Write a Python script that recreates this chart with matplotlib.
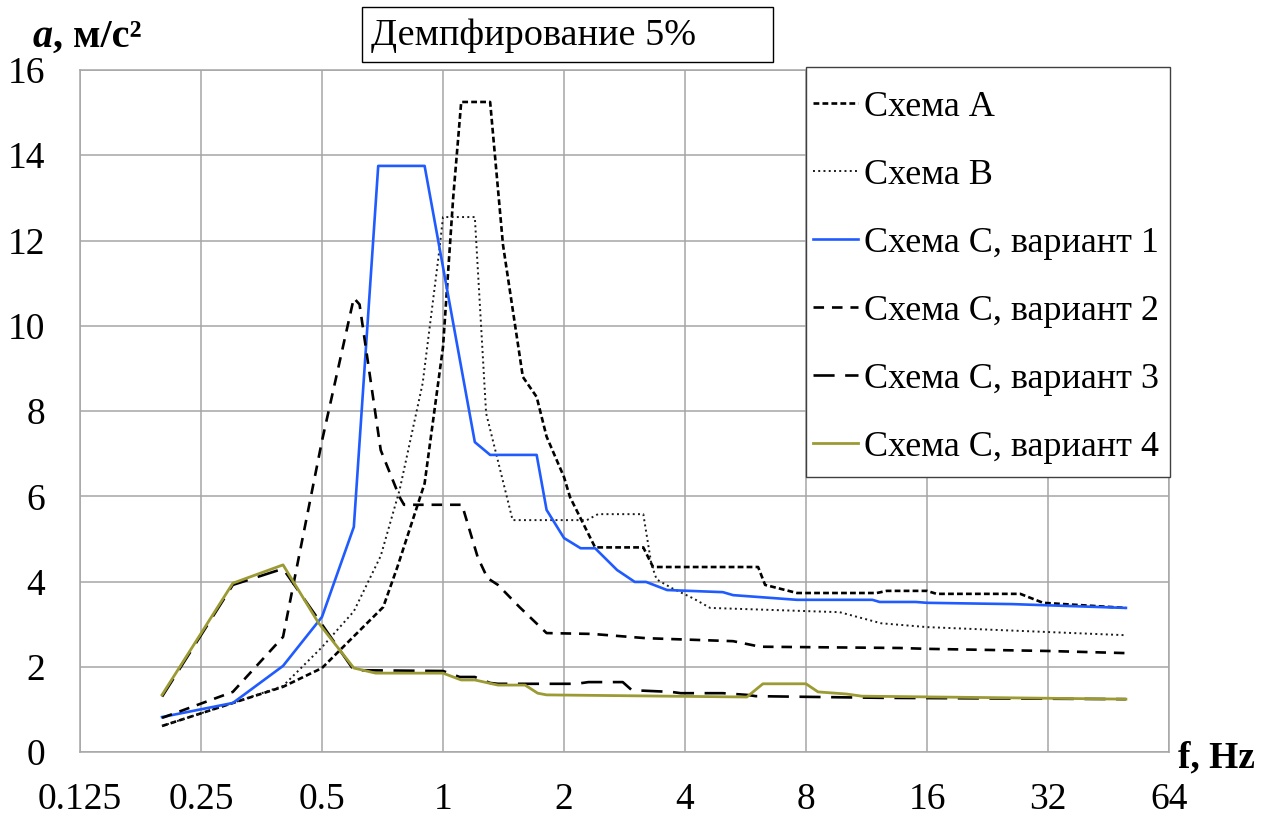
import matplotlib
matplotlib.use("Agg")
import matplotlib.pyplot as plt
from matplotlib.ticker import FixedLocator, NullLocator
from matplotlib.patches import Rectangle

plt.rcParams['font.family'] = ['Liberation Serif', 'DejaVu Serif']

# ---- data ----
freq_A = [0.2, 0.3, 0.4, 0.5, 0.71, 0.77, 0.9, 1.0, 1.06, 1.11, 1.31, 1.41, 1.58, 1.71, 1.81, 2.0, 2.07, 2.39, 3.15, 3.33, 6.08, 6.33, 7.6, 12.0, 12.7, 16.0, 16.9, 27.3, 31.1, 50]
acc_A = [0.61, 1.15, 1.53, 1.97, 3.4, 4.34, 6.3, 9.5, 13.0, 15.25, 15.25, 11.9, 8.8, 8.33, 7.4, 6.45, 5.98, 4.8, 4.8, 4.34, 4.34, 3.92, 3.73, 3.73, 3.78, 3.78, 3.71, 3.71, 3.5, 3.38]

freq_B = [0.2, 0.3, 0.4, 0.5, 0.6, 0.7, 0.78, 0.89, 0.98, 1.0, 1.2, 1.28, 1.49, 2.28, 2.43, 3.15, 3.3, 3.4, 3.7, 4.2, 4.62, 9.7, 12.3, 16, 50]
acc_B = [0.61, 1.15, 1.55, 2.46, 3.3, 4.6, 6.15, 8.65, 11.8, 12.55, 12.55, 7.95, 5.44, 5.44, 5.58, 5.58, 4.4, 4.05, 3.85, 3.6, 3.38, 3.28, 3.02, 2.93, 2.74]

freq_C1 = [0.2, 0.3, 0.4, 0.5, 0.6, 0.69, 0.9, 1.2, 1.31, 1.71, 1.81, 2.0, 2.2, 2.39, 2.71, 3.0, 3.2, 3.61, 4.97, 5.27, 7.6, 11.7, 12.2, 15, 16, 26, 50]
acc_C1 = [0.82, 1.15, 2.02, 3.17, 5.28, 13.75, 13.75, 7.27, 6.97, 6.97, 5.68, 5.02, 4.78, 4.78, 4.27, 3.99, 3.99, 3.8, 3.75, 3.68, 3.57, 3.57, 3.52, 3.52, 3.5, 3.47, 3.38]

freq_C2 = [0.2, 0.3, 0.4, 0.43, 0.5, 0.6, 0.62, 0.7, 0.78, 0.8, 1.115, 1.22, 1.29, 1.37, 1.55, 1.81, 2.35, 3.2, 5.27, 6.15, 13.7, 16, 32, 50]
acc_C2 = [0.8, 1.41, 2.7, 4.2, 7.3, 10.65, 10.5, 7.08, 5.98, 5.8, 5.8, 4.57, 4.08, 3.92, 3.4, 2.79, 2.77, 2.67, 2.6, 2.47, 2.44, 2.42, 2.37, 2.32]

freq_C3 = [0.2, 0.3, 0.4, 0.6, 1.0, 1.1, 1.2, 1.31, 1.37, 2.15, 2.3, 2.8, 2.95, 3.7, 3.9, 4.97, 5.7, 6.0, 12.5, 50]
acc_C3 = [1.3, 3.92, 4.3, 1.92, 1.9, 1.76, 1.76, 1.62, 1.6, 1.6, 1.64, 1.64, 1.45, 1.41, 1.38, 1.38, 1.34, 1.31, 1.27, 1.24]

freq_C4 = [0.2, 0.3, 0.4, 0.49, 0.6, 0.68, 1.0, 1.11, 1.2, 1.37, 1.6, 1.72, 1.81, 5.7, 6.25, 8.0, 8.57, 10.1, 11, 50]
acc_C4 = [1.34, 3.96, 4.39, 3.03, 1.97, 1.85, 1.85, 1.69, 1.69, 1.57, 1.57, 1.38, 1.34, 1.29, 1.6, 1.6, 1.41, 1.36, 1.31, 1.24]

series_labels = ["Схема А", "Схема В", "Схема С, вариант 1", "Схема С, вариант 2",
                 "Схема С, вариант 3", "Схема С, вариант 4"]
x_ticks = [0.125, 0.25, 0.5, 1, 2, 4, 8, 16, 32, 64]
x_ticklabels = ["0.125", "0.25", "0.5", "1", "2", "4", "8", "16", "32", "64"]
y_ticks = [0, 2, 4, 6, 8, 10, 12, 14, 16]

# ---- figure ----
W, H = 1271, 826
fig = plt.figure(figsize=(W / 100, H / 100), dpi=100)
L, R, T, B = 80, 1169, 70, 752
ax = fig.add_axes([L / W, (H - B) / H, (R - L) / W, (B - T) / H])

ax.set_xscale('log', base=2)
ax.set_xlim(0.125, 64)
ax.set_ylim(0, 16)

FS_TICK = 27
FS_LEG = 26
FS_TITLE = 27.5

ax.plot(freq_A, acc_A, color='black', lw=1.9, linestyle=(0, (2.2, 1.2)), label=series_labels[0])
ax.plot(freq_B, acc_B, color='#1a1a1a', lw=1.4, linestyle=(0, (1, 1.7)), label=series_labels[1])
ax.plot(freq_C1, acc_C1, color='#1f5bff', lw=1.9, linestyle='-', label=series_labels[2])
ax.plot(freq_C2, acc_C2, color='black', lw=1.9, linestyle=(0, (4, 3)), label=series_labels[3])
ax.plot(freq_C3, acc_C3, color='black', lw=1.9, linestyle=(0, (8, 4)), label=series_labels[4])
ax.plot(freq_C4, acc_C4, color='#9c9a33', lw=2.0, linestyle='-', label=series_labels[5])

ax.xaxis.set_major_locator(FixedLocator(x_ticks))
ax.xaxis.set_minor_locator(NullLocator())
ax.set_xticklabels(x_ticklabels)
ax.yaxis.set_major_locator(FixedLocator(y_ticks))
ax.tick_params(axis='both', length=0, labelsize=FS_TICK)
ax.tick_params(axis='x', pad=22)
ax.tick_params(axis='y', pad=25)
ax.grid(True, color='#a6a6a6', lw=1.1)
ax.set_axisbelow(True)
for s in ax.spines.values():
    s.set_color('#a6a6a6')
    s.set_linewidth(1.1)

# legend frame drawn as a separate rectangle at the reference position
fig.patches.append(Rectangle((806 / W, 1 - 477 / H), (1170 - 806) / W, (477 - 67) / H,
                             transform=fig.transFigure, facecolor='white',
                             edgecolor='#404040', lw=1.0, zorder=3))
leg = fig.legend(*ax.get_legend_handles_labels(), loc='center left',
                 bbox_to_anchor=(813 / W, 1 - 277 / H), bbox_transform=fig.transFigure,
                 borderaxespad=0, borderpad=0, fontsize=FS_LEG, frameon=False,
                 handlelength=1.25, handletextpad=0.17, labelspacing=0.96)
leg.set_zorder(4)

# title box
fig.patches.append(Rectangle((362 / W, 1 - 62 / H), (773 - 362) / W, (62 - 7) / H,
                             transform=fig.transFigure, facecolor='white',
                             edgecolor='black', lw=1.0))
fig.text(371 / W, 1 - 36 / H, "Демпфирование 5%", fontsize=FS_TITLE, ha='left', va='center')

# y axis label
t1 = fig.text(33 / W, 1 - 47 / H, "a", fontsize=29, fontweight='bold', style='italic',
              ha='left', va='baseline')
fig.canvas.draw()
bb = t1.get_window_extent()
fig.text(bb.x1 / W, 1 - 47 / H, ", м/с²", fontsize=29, fontweight='bold',
         ha='left', va='baseline')

# x axis label
fig.text(1178 / W, 1 - 767 / H, "f, Hz", fontsize=27, fontweight='bold',
         ha='left', va='baseline')

fig.savefig("out.png", dpi=100)
